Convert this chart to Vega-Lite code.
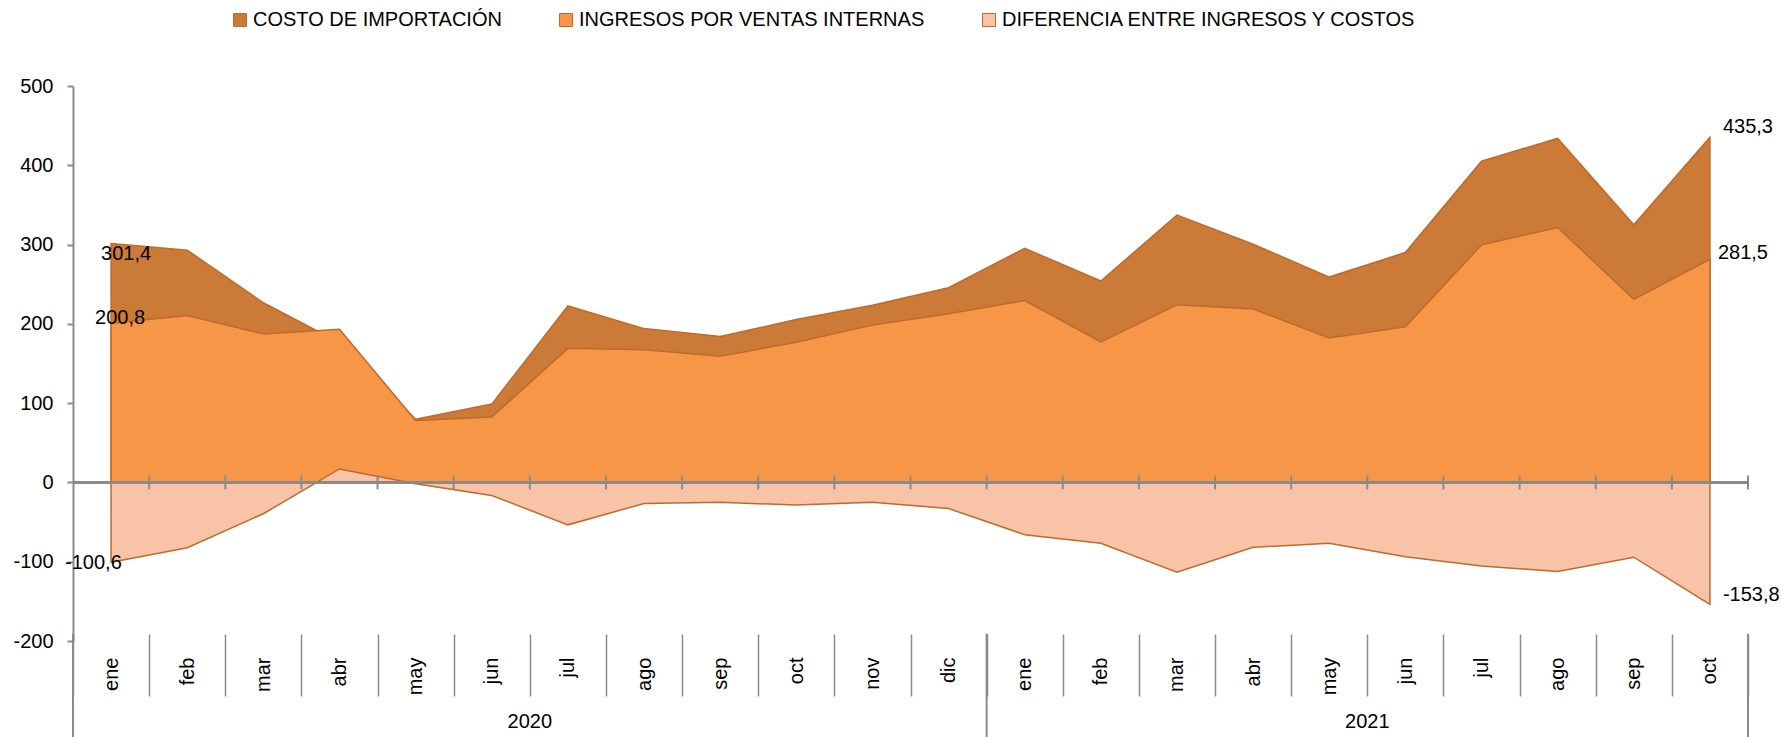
{
  "$schema": "https://vega.github.io/schema/vega-lite/v6.json",
  "width": 1675,
  "height": 555,
  "autosize": {"type": "none"},
  "padding": {"left": 73, "top": 86, "right": 33, "bottom": 96},
  "background": "white",
  "config": {
    "view": {"stroke": null},
    "font": "Liberation Sans",
    "locale": {"number": {"decimal": ",", "thousands": ".", "grouping": [3], "currency": ["", ""], "minus": "-"}},
    "axis": {"labelFont": "Liberation Sans", "labelColor": "#000000", "labelFontSize": 20, "title": null, "grid": false},
    "text": {"font": "Liberation Sans", "fontSize": 20, "color": "#000000"}
  },
  "datasets": {
    "meses": [
      {"periodo": "ene 2020", "costo": 301.4, "ingresos": 200.8, "diferencia": -100.6},
      {"periodo": "feb 2020", "costo": 293.0, "ingresos": 210.6, "diferencia": -82.4},
      {"periodo": "mar 2020", "costo": 226.6, "ingresos": 187.1, "diferencia": -39.5},
      {"periodo": "abr 2020", "costo": 176.2, "ingresos": 193.2, "diferencia": 17.0},
      {"periodo": "may 2020", "costo": 79.8, "ingresos": 78.0, "diferencia": -1.8},
      {"periodo": "jun 2020", "costo": 98.8, "ingresos": 82.4, "diferencia": -16.4},
      {"periodo": "jul 2020", "costo": 222.6, "ingresos": 169.1, "diferencia": -53.5},
      {"periodo": "ago 2020", "costo": 194.0, "ingresos": 167.4, "diferencia": -26.6},
      {"periodo": "sep 2020", "costo": 184.0, "ingresos": 159.0, "diferencia": -25.0},
      {"periodo": "oct 2020", "costo": 205.4, "ingresos": 176.8, "diferencia": -28.6},
      {"periodo": "nov 2020", "costo": 223.4, "ingresos": 198.4, "diferencia": -25.0},
      {"periodo": "dic 2020", "costo": 245.6, "ingresos": 212.7, "diferencia": -32.9},
      {"periodo": "ene 2021", "costo": 295.3, "ingresos": 229.4, "diferencia": -65.9},
      {"periodo": "feb 2021", "costo": 254.0, "ingresos": 177.3, "diferencia": -76.7},
      {"periodo": "mar 2021", "costo": 337.2, "ingresos": 224.0, "diferencia": -113.2},
      {"periodo": "abr 2021", "costo": 300.4, "ingresos": 218.6, "diferencia": -81.8},
      {"periodo": "may 2021", "costo": 259.0, "ingresos": 182.2, "diferencia": -76.8},
      {"periodo": "jun 2021", "costo": 290.0, "ingresos": 196.2, "diferencia": -93.8},
      {"periodo": "jul 2021", "costo": 405.1, "ingresos": 299.6, "diferencia": -105.5},
      {"periodo": "ago 2021", "costo": 433.9, "ingresos": 321.6, "diferencia": -112.3},
      {"periodo": "sep 2021", "costo": 325.1, "ingresos": 230.8, "diferencia": -94.3},
      {"periodo": "oct 2021", "costo": 435.3, "ingresos": 281.5, "diferencia": -153.8}
    ],
    "anios": [
      {"anio": "2020", "periodo": "jul 2020"},
      {"anio": "2021", "periodo": "jun 2021"}
    ]
  },
  "data": {"name": "meses"},
  "layer": [
    {
      "mark": {"type": "area", "stroke": "#bf6a2c", "strokeWidth": 1.5},
      "encoding": {
        "x": {
          "field": "periodo", "type": "ordinal", "bandPosition": 0.5,
          "scale": {"type": "band", "paddingInner": 0, "paddingOuter": 0,
            "domain": ["ene 2020","feb 2020","mar 2020","abr 2020","may 2020","jun 2020","jul 2020","ago 2020","sep 2020","oct 2020","nov 2020","dic 2020","ene 2021","feb 2021","mar 2021","abr 2021","may 2021","jun 2021","jul 2021","ago 2021","sep 2021","oct 2021"]},
          "axis": {"orient": "bottom", "offset": -7, "domain": false, "tickBand": "extent", "tickSize": 62, "tickColor": "#8a8a8a", "tickWidth": 1.5, "labelAngle": -90, "labelAlign": "right", "labelBaseline": "middle", "labelPadding": -39, "labelExpr": "split(datum.label, ' ')[0]", "labelFontSize": 20, "labelOverlap": false, "labelBound": false, "labelFlush": false}
        },
        "y": {
          "field": "costo", "type": "quantitative",
          "scale": {"domain": [-200, 500], "nice": false, "zero": false},
          "axis": {"values": [-200, -100, 0, 100, 200, 300, 400, 500], "format": "d", "domainColor": "#8a8a8a", "domainWidth": 2, "tickColor": "#8a8a8a", "tickWidth": 2, "tickSize": 6, "labelPadding": 14, "labelFontSize": 20}
        },
        "color": {
          "datum": "COSTO DE IMPORTACIÓN", "type": "nominal",
          "scale": {"domain": ["COSTO DE IMPORTACIÓN", "INGRESOS POR VENTAS INTERNAS", "DIFERENCIA ENTRE INGRESOS Y COSTOS"], "range": ["#cc7a37", "#f79646", "#f9c3a7"]},
          "legend": {"orient": "none", "legendX": 157, "legendY": -76, "direction": "horizontal", "columns": 3, "title": null, "symbolType": "square", "symbolSize": 169, "symbolStrokeColor": "#b5652b", "symbolStrokeWidth": 1, "symbolOpacity": 1, "labelFont": "Liberation Sans", "labelFontSize": 20, "labelColor": "#000000", "labelOffset": 3, "columnPadding": 54, "padding": 0, "labelLimit": 0}
        }
      }
    },
    {
      "mark": {"type": "area", "stroke": "#bf6a2c", "strokeWidth": 1.5},
      "encoding": {
        "x": {"field": "periodo", "type": "ordinal", "bandPosition": 0.5},
        "y": {"field": "ingresos", "type": "quantitative"},
        "color": {"datum": "INGRESOS POR VENTAS INTERNAS", "type": "nominal"}
      }
    },
    {
      "mark": {"type": "area", "stroke": "#bf6a2c", "strokeWidth": 1.5},
      "encoding": {
        "x": {"field": "periodo", "type": "ordinal", "bandPosition": 0.5},
        "y": {"field": "diferencia", "type": "quantitative"},
        "color": {"datum": "DIFERENCIA ENTRE INGRESOS Y COSTOS", "type": "nominal"}
      }
    },
    {
      "mark": {"type": "rule", "color": "#8a8a8a", "strokeWidth": 2},
      "encoding": {"y": {"datum": 0, "type": "quantitative"}}
    },
    {
      "mark": {"type": "rule", "color": "#8a8a8a", "strokeWidth": 2},
      "encoding": {
        "x": {"field": "periodo", "type": "ordinal", "bandPosition": 1},
        "y": {"datum": -8.8, "type": "quantitative"},
        "y2": {"datum": 8.8}
      }
    },
    {
      "transform": [{"filter": "datum.periodo == 'ene 2020' || datum.periodo == 'ene 2021'"}],
      "mark": {"type": "rule", "color": "#8a8a8a", "strokeWidth": 2},
      "encoding": {
        "x": {"field": "periodo", "type": "ordinal", "bandPosition": 0},
        "y": {"datum": -190.7, "type": "quantitative"},
        "y2": {"datum": -322}
      }
    },
    {
      "transform": [{"filter": "datum.periodo == 'oct 2021'"}],
      "mark": {"type": "rule", "color": "#8a8a8a", "strokeWidth": 2},
      "encoding": {
        "x": {"field": "periodo", "type": "ordinal", "bandPosition": 1},
        "y": {"datum": -190.7, "type": "quantitative"},
        "y2": {"datum": -322}
      }
    },
    {
      "data": {"name": "anios"},
      "mark": {"type": "text", "align": "center", "baseline": "middle"},
      "encoding": {
        "x": {"field": "periodo", "type": "ordinal", "bandPosition": 0},
        "y": {"datum": -301.6, "type": "quantitative"},
        "text": {"field": "anio", "type": "nominal"}
      }
    },
    {
      "transform": [{"filter": "datum.periodo == 'ene 2020'"}],
      "mark": {"type": "text", "align": "left", "baseline": "middle", "dx": -10, "dy": 11},
      "encoding": {
        "x": {"field": "periodo", "type": "ordinal", "bandPosition": 0.5},
        "y": {"field": "costo", "type": "quantitative"},
        "text": {"field": "costo", "type": "quantitative", "format": ".1f"}
      }
    },
    {
      "transform": [{"filter": "datum.periodo == 'ene 2020'"}],
      "mark": {"type": "text", "align": "left", "baseline": "middle", "dx": -16, "dy": -5},
      "encoding": {
        "x": {"field": "periodo", "type": "ordinal", "bandPosition": 0.5},
        "y": {"field": "ingresos", "type": "quantitative"},
        "text": {"field": "ingresos", "type": "quantitative", "format": ".1f"}
      }
    },
    {
      "transform": [{"filter": "datum.periodo == 'ene 2020'"}],
      "mark": {"type": "text", "align": "left", "baseline": "middle", "dx": -46, "dy": 1},
      "encoding": {
        "x": {"field": "periodo", "type": "ordinal", "bandPosition": 0.5},
        "y": {"field": "diferencia", "type": "quantitative"},
        "text": {"field": "diferencia", "type": "quantitative", "format": ".1f"}
      }
    },
    {
      "transform": [{"filter": "datum.periodo == 'oct 2021'"}],
      "mark": {"type": "text", "align": "left", "baseline": "middle", "dx": 13, "dy": -10},
      "encoding": {
        "x": {"field": "periodo", "type": "ordinal", "bandPosition": 0.5},
        "y": {"field": "costo", "type": "quantitative"},
        "text": {"field": "costo", "type": "quantitative", "format": ".1f"}
      }
    },
    {
      "transform": [{"filter": "datum.periodo == 'oct 2021'"}],
      "mark": {"type": "text", "align": "left", "baseline": "middle", "dx": 8, "dy": -6},
      "encoding": {
        "x": {"field": "periodo", "type": "ordinal", "bandPosition": 0.5},
        "y": {"field": "ingresos", "type": "quantitative"},
        "text": {"field": "ingresos", "type": "quantitative", "format": ".1f"}
      }
    },
    {
      "transform": [{"filter": "datum.periodo == 'oct 2021'"}],
      "mark": {"type": "text", "align": "left", "baseline": "middle", "dx": 13, "dy": -9},
      "encoding": {
        "x": {"field": "periodo", "type": "ordinal", "bandPosition": 0.5},
        "y": {"field": "diferencia", "type": "quantitative"},
        "text": {"field": "diferencia", "type": "quantitative", "format": ".1f"}
      }
    }
  ]
}
